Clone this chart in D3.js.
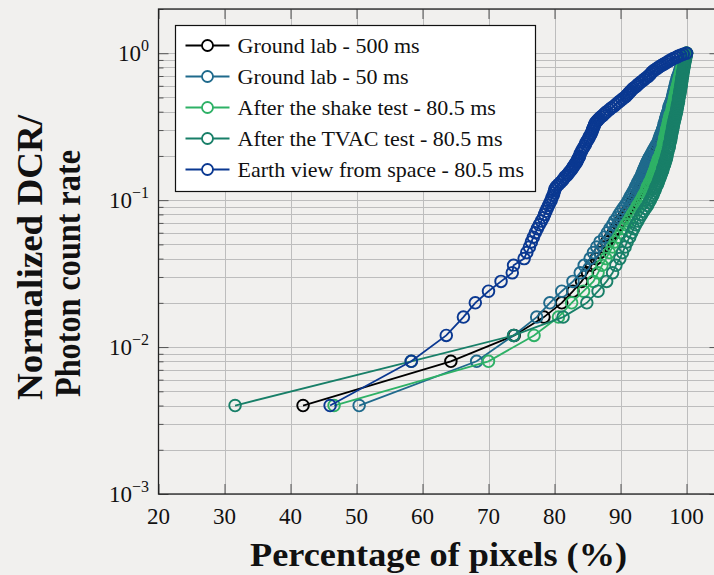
<!DOCTYPE html>
<html lang="en">
<head>
<meta charset="UTF-8">
<title>Normalized DCR vs percentage of pixels</title>
<style>
  body { margin: 0; padding: 0; overflow: hidden; background: #f1f0ee; }
  svg { display: block; }
</style>
</head>
<body>
<svg id="chart" width="714" height="575"></svg>
<script src="https://cdn.jsdelivr.net/npm/d3@7"></script>
<script>
// normalized count levels shared by all series (y values)
const levels = [
  0.004, 0.008, 0.012, 0.016, 0.020, 0.024, 0.028, 0.032, 0.036, 0.040,
  0.044, 0.048, 0.052, 0.056, 0.060, 0.064, 0.068, 0.072, 0.076, 0.080,
  0.084, 0.088, 0.092, 0.096, 0.100, 0.104, 0.108, 0.112, 0.116, 0.120,
  0.124, 0.128, 0.132, 0.136, 0.140, 0.144, 0.148, 0.152, 0.156, 0.160,
  0.164, 0.168, 0.172, 0.176, 0.180, 0.184, 0.188, 0.192, 0.196, 0.200,
  0.208, 0.216, 0.224, 0.232, 0.240, 0.248, 0.256, 0.264, 0.272, 0.280,
  0.288, 0.296, 0.304, 0.312, 0.320, 0.328, 0.336, 0.344, 0.352, 0.360,
  0.368, 0.376, 0.384, 0.392, 0.400,
  0.412, 0.424, 0.436, 0.448, 0.460, 0.472, 0.484, 0.496, 0.508, 0.520,
  0.532, 0.544, 0.556, 0.568, 0.580, 0.592, 0.604,
  0.616, 0.632, 0.648, 0.664, 0.680, 0.696, 0.712, 0.728, 0.744, 0.760,
  0.776, 0.792, 0.808, 0.824, 0.840, 0.856, 0.872, 0.888, 0.904, 0.920,
  0.936, 0.952, 0.968, 0.984, 1.000
];

// percentage of pixels (x values), one per level
const ground500 = [
  41.9, 64.3, 73.9, 78.4, 81.1, 82.8, 84.1, 85.0, 85.6, 86.3,
  86.9, 87.4, 87.9, 88.5, 88.9, 89.3, 89.7, 90.0, 90.4, 90.7,
  91.0, 91.3, 91.6, 91.8, 92.0, 92.2, 92.4, 92.6, 92.8, 93.0,
  93.2, 93.3, 93.5, 93.6, 93.8, 93.9, 94.0, 94.1, 94.2, 94.3,
  94.4, 94.5, 94.6, 94.7, 94.8, 94.9, 95.0, 95.0, 95.1, 95.2,
  95.3, 95.5, 95.6, 95.8, 96.0, 96.1, 96.2, 96.3, 96.4, 96.5,
  96.5, 96.6, 96.7, 96.8, 96.9, 96.9, 97.0, 97.1, 97.1, 97.2,
  97.3, 97.3, 97.4, 97.4, 97.5,
  97.6, 97.6, 97.7, 97.8, 97.9, 97.9, 98.0, 98.1, 98.1, 98.2,
  98.2, 98.3, 98.3, 98.4, 98.4, 98.5, 98.5,
  98.6, 98.6, 98.7, 98.7, 98.8, 98.9, 98.9, 99.0, 99.0, 99.1,
  99.1, 99.2, 99.3, 99.3, 99.4, 99.5, 99.5, 99.6, 99.7, 99.7,
  99.8, 99.8, 99.9, 99.9, 100.0
];
const ground50 = [
  50.4, 68.2, 73.8, 77.3, 79.3, 81.1, 82.8, 83.9, 84.5, 85.4,
  85.9, 86.4, 86.9, 87.6, 88.0, 88.4, 88.8, 89.1, 89.5, 89.8,
  90.1, 90.4, 90.7, 91.0, 91.2, 91.4, 91.6, 91.8, 92.0, 92.2,
  92.3, 92.5, 92.6, 92.8, 92.9, 93.1, 93.2, 93.3, 93.4, 93.5,
  93.6, 93.7, 93.8, 93.9, 94.0, 94.1, 94.2, 94.3, 94.4, 94.5,
  94.7, 94.9, 95.1, 95.3, 95.5, 95.7, 95.8, 95.9, 96.0, 96.1,
  96.2, 96.3, 96.4, 96.5, 96.6, 96.6, 96.7, 96.8, 96.8, 96.9,
  96.9, 97.0, 97.1, 97.1, 97.2,
  97.3, 97.3, 97.4, 97.5, 97.6, 97.7, 97.8, 97.9, 97.9, 98.0,
  98.0, 98.1, 98.1, 98.2, 98.2, 98.3, 98.3,
  98.4, 98.4, 98.5, 98.6, 98.6, 98.7, 98.8, 98.9, 98.9, 99.0,
  99.1, 99.1, 99.2, 99.3, 99.3, 99.4, 99.5, 99.5, 99.6, 99.6,
  99.7, 99.8, 99.8, 99.9, 100.0
];
const shakeTest = [
  46.6, 70.0, 76.9, 80.6, 82.6, 84.4, 85.9, 86.6, 87.2, 87.8,
  88.3, 88.8, 89.2, 89.7, 90.1, 90.5, 90.8, 91.2, 91.5, 91.8,
  92.1, 92.4, 92.6, 92.9, 93.1, 93.3, 93.5, 93.7, 93.9, 94.0,
  94.1, 94.3, 94.4, 94.6, 94.7, 94.8, 94.9, 95.0, 95.1, 95.2,
  95.3, 95.4, 95.4, 95.5, 95.6, 95.7, 95.7, 95.8, 95.9, 96.0,
  96.1, 96.2, 96.4, 96.5, 96.5, 96.6, 96.7, 96.7, 96.8, 96.9,
  96.9, 97.0, 97.0, 97.1, 97.2, 97.2, 97.3, 97.3, 97.4, 97.4,
  97.5, 97.5, 97.6, 97.7, 97.8,
  97.8, 97.9, 97.9, 98.0, 98.1, 98.1, 98.2, 98.2, 98.3, 98.3,
  98.4, 98.4, 98.5, 98.5, 98.6, 98.6, 98.7,
  98.7, 98.8, 98.8, 98.9, 99.0, 99.0, 99.1, 99.1, 99.2, 99.2,
  99.3, 99.3, 99.4, 99.4, 99.5, 99.5, 99.6, 99.6, 99.7, 99.7,
  99.8, 99.8, 99.9, 99.9, 100.0
];
const tvacTest = [
  31.6, 58.3, 73.8, 81.3, 84.9, 86.6, 87.9, 88.8, 89.3, 89.9,
  90.3, 90.7, 91.0, 91.4, 91.7, 92.0, 92.3, 92.6, 92.9, 93.2,
  93.5, 93.8, 94.1, 94.3, 94.5, 94.7, 94.9, 95.0, 95.2, 95.3,
  95.4, 95.6, 95.7, 95.8, 95.9, 96.0, 96.1, 96.2, 96.3, 96.4,
  96.4, 96.5, 96.6, 96.7, 96.7, 96.8, 96.9, 96.9, 97.0, 97.0,
  97.1, 97.2, 97.3, 97.4, 97.4, 97.5, 97.6, 97.6, 97.7, 97.7,
  97.8, 97.8, 97.9, 97.9, 98.0, 98.0, 98.1, 98.1, 98.2, 98.2,
  98.3, 98.3, 98.4, 98.4, 98.5,
  98.5, 98.6, 98.6, 98.7, 98.7, 98.8, 98.8, 98.8, 98.9, 98.9,
  99.0, 99.0, 99.0, 99.1, 99.1, 99.1, 99.2,
  99.2, 99.2, 99.3, 99.3, 99.3, 99.4, 99.4, 99.4, 99.5, 99.5,
  99.5, 99.6, 99.6, 99.6, 99.7, 99.7, 99.7, 99.8, 99.8, 99.8,
  99.9, 99.9, 99.9, 100.0, 100.0
];
const earthView = [
  46.0, 58.3, 63.6, 66.2, 68.0, 70.0, 71.9, 73.6, 73.8, 75.4,
  75.8, 76.2, 76.5, 76.8, 77.1, 77.4, 77.7, 78.0, 78.3, 78.5,
  78.7, 78.9, 79.1, 79.3, 79.5, 79.6, 79.8, 79.9, 80.0, 80.1,
  80.3, 80.6, 80.9, 81.2, 81.4, 81.6, 81.9, 82.1, 82.3, 82.5,
  82.7, 82.8, 83.0, 83.1, 83.3, 83.4, 83.5, 83.6, 83.7, 83.8,
  83.9, 84.1, 84.3, 84.5, 84.7, 84.8, 85.0, 85.2, 85.3, 85.5,
  85.6, 85.7, 85.8, 85.9, 86.0, 86.1, 86.2, 86.4, 86.6, 86.8,
  87.0, 87.3, 87.5, 87.7, 87.9,
  88.3, 88.6, 89.0, 89.3, 89.6, 89.9, 90.2, 90.5, 90.8, 91.0,
  91.2, 91.4, 91.6, 91.8, 92.0, 92.3, 92.5,
  92.7, 93.0, 93.3, 93.6, 93.9, 94.2, 94.4, 94.6, 94.8, 95.0,
  95.3, 95.6, 95.9, 96.2, 96.5, 96.8, 97.1, 97.4, 97.7, 98.0,
  98.4, 98.7, 99.1, 99.5, 100.0
];

const seriesNames = [
  "Ground lab - 500 ms",
  "Ground lab - 50 ms",
  "After the shake test - 80.5 ms",
  "After the TVAC test - 80.5 ms",
  "Earth view from space - 80.5 ms"
];
const seriesX = [ground500, ground50, shakeTest, tvacTest, earthView];
const seriesColors = ["#000000", "#1f6a8c", "#2eb166", "#187f68", "#0a3891"];

const xTicks = [20, 30, 40, 50, 60, 70, 80, 90, 100];
const yTicks = [1e-3, 1e-2, 1e-1, 1];
const yTickExp = ["\u22123", "\u22122", "\u22121", "0"];

const svg = d3.select("#chart");
const pLeft = 158.5, pRight = 719.5, pTop = 9, pBottom = 494;

const x = d3.scaleLinear().domain([20, 105]).range([pLeft, pRight]);
const y = d3.scaleLog().domain([1e-3, 2]).range([pBottom, pTop]);

svg.append("defs").append("clipPath").attr("id", "plot-clip")
  .append("rect")
  .attr("x", pLeft).attr("y", pTop)
  .attr("width", pRight - pLeft).attr("height", pBottom - pTop);

// grid
const grid = svg.append("g");
grid.selectAll(".hgrid")
  .data(y.ticks())
  .join("line")
  .attr("x1", pLeft).attr("x2", pRight)
  .attr("y1", d => Math.round(y(d)) + 0.5).attr("y2", d => Math.round(y(d)) + 0.5)
  .attr("stroke", "#bdbdbd").attr("stroke-width", 1);
grid.selectAll(".vgrid")
  .data(xTicks.slice(1))
  .join("line")
  .attr("x1", d => Math.round(x(d)) + 0.5).attr("x2", d => Math.round(x(d)) + 0.5)
  .attr("y1", pTop).attr("y2", pBottom)
  .attr("stroke", "#bdbdbd").attr("stroke-width", 1);

// axes ticks (inward)
const minor = y.ticks().filter(v => !yTicks.some(t => Math.abs(t - v) < v * 1e-6));
function tickAxis(axis, tr) {
  const g = svg.append("g").attr("transform", tr).call(axis);
  g.select(".domain").remove();
  g.selectAll("line").attr("stroke", "#555");
  g.selectAll("text").remove();
}
tickAxis(d3.axisLeft(y).tickValues(yTicks).tickSizeInner(-10).tickSizeOuter(0), `translate(${pLeft},0)`);
tickAxis(d3.axisLeft(y).tickValues(minor).tickSizeInner(-5).tickSizeOuter(0), `translate(${pLeft},0)`);
tickAxis(d3.axisRight(y).tickValues(yTicks).tickSizeInner(-10).tickSizeOuter(0), `translate(${pRight},0)`);
tickAxis(d3.axisRight(y).tickValues(minor).tickSizeInner(-5).tickSizeOuter(0), `translate(${pRight},0)`);
tickAxis(d3.axisBottom(x).tickValues(xTicks).tickSizeInner(-10).tickSizeOuter(0), `translate(0,${pBottom})`);
tickAxis(d3.axisTop(x).tickValues(xTicks).tickSizeInner(-10).tickSizeOuter(0), `translate(0,${pTop})`);

// series
const line = d3.line().x(d => x(d[0])).y(d => y(d[1]));
const plot = svg.append("g").attr("clip-path", "url(#plot-clip)");
seriesX.forEach((xs, i) => {
  const pts = xs.map((v, j) => [v, levels[j]]);
  const g = plot.append("g");
  g.append("path")
    .datum(pts)
    .attr("d", line)
    .attr("fill", "none")
    .attr("stroke", seriesColors[i])
    .attr("stroke-width", 1.8);
  g.selectAll("circle")
    .data(pts)
    .join("circle")
    .attr("cx", d => x(d[0]))
    .attr("cy", d => y(d[1]))
    .attr("r", 5.8)
    .attr("fill", "none")
    .attr("stroke", seriesColors[i])
    .attr("stroke-width", 1.9);
});

// frame
svg.append("rect")
  .attr("x", pLeft).attr("y", pTop)
  .attr("width", pRight - pLeft).attr("height", pBottom - pTop)
  .attr("fill", "none").attr("stroke", "#222").attr("stroke-width", 1.3);

// tick labels
const tickFont = "'Liberation Serif', 'Times New Roman', serif";
svg.append("g").selectAll("text")
  .data(xTicks)
  .join("text")
  .attr("x", d => x(d))
  .attr("y", 524)
  .attr("text-anchor", "middle")
  .attr("font-family", tickFont)
  .attr("font-size", 23)
  .attr("fill", "#111")
  .text(d => d);

const yl = svg.append("g").selectAll("text")
  .data(yTicks)
  .join("text")
  .attr("x", 149)
  .attr("y", d => y(d) + 8)
  .attr("text-anchor", "end")
  .attr("font-family", tickFont)
  .attr("font-size", 23)
  .attr("fill", "#111");
yl.append("tspan").text("10");
yl.append("tspan")
  .attr("dy", -10)
  .attr("font-size", 16)
  .text((d, i) => yTickExp[i]);

// axis titles
svg.append("text")
  .attr("x", 438.5).attr("y", 566)
  .attr("text-anchor", "middle")
  .attr("font-family", tickFont)
  .attr("font-weight", "bold")
  .attr("font-size", 34)
  .attr("textLength", 377)
  .attr("lengthAdjust", "spacingAndGlyphs")
  .attr("fill", "#111")
  .text("Percentage of pixels (%)");

svg.append("text")
  .attr("transform", "translate(42,400) rotate(-90)")
  .attr("font-family", tickFont)
  .attr("font-weight", "bold")
  .attr("font-size", 36)
  .attr("textLength", 285)
  .attr("lengthAdjust", "spacingAndGlyphs")
  .attr("fill", "#111")
  .text("Normalized DCR/");
svg.append("text")
  .attr("transform", "translate(80,397) rotate(-90)")
  .attr("font-family", tickFont)
  .attr("font-weight", "bold")
  .attr("font-size", 36)
  .attr("textLength", 247)
  .attr("lengthAdjust", "spacingAndGlyphs")
  .attr("fill", "#111")
  .text("Photon count rate");

// legend
const legend = svg.append("g").attr("transform", "translate(175.5,25.5)");
legend.append("rect")
  .attr("width", 360).attr("height", 166)
  .attr("fill", "#ffffff")
  .attr("stroke", "#111").attr("stroke-width", 1.2);
const rows = legend.selectAll(".row")
  .data(seriesNames)
  .join("g")
  .attr("transform", (d, i) => `translate(0,${20 + i * 31})`);
rows.append("line")
  .attr("x1", 10).attr("x2", 54)
  .attr("stroke", (d, i) => seriesColors[i])
  .attr("stroke-width", 1.8);
rows.append("circle")
  .attr("cx", 32).attr("r", 5.5)
  .attr("fill", "#fff")
  .attr("stroke", (d, i) => seriesColors[i])
  .attr("stroke-width", 1.8);
rows.append("text")
  .attr("x", 62).attr("dy", "0.33em")
  .attr("font-family", tickFont)
  .attr("font-size", 22)
  .attr("fill", "#111")
  .text(d => d);
</script>
</body>
</html>
